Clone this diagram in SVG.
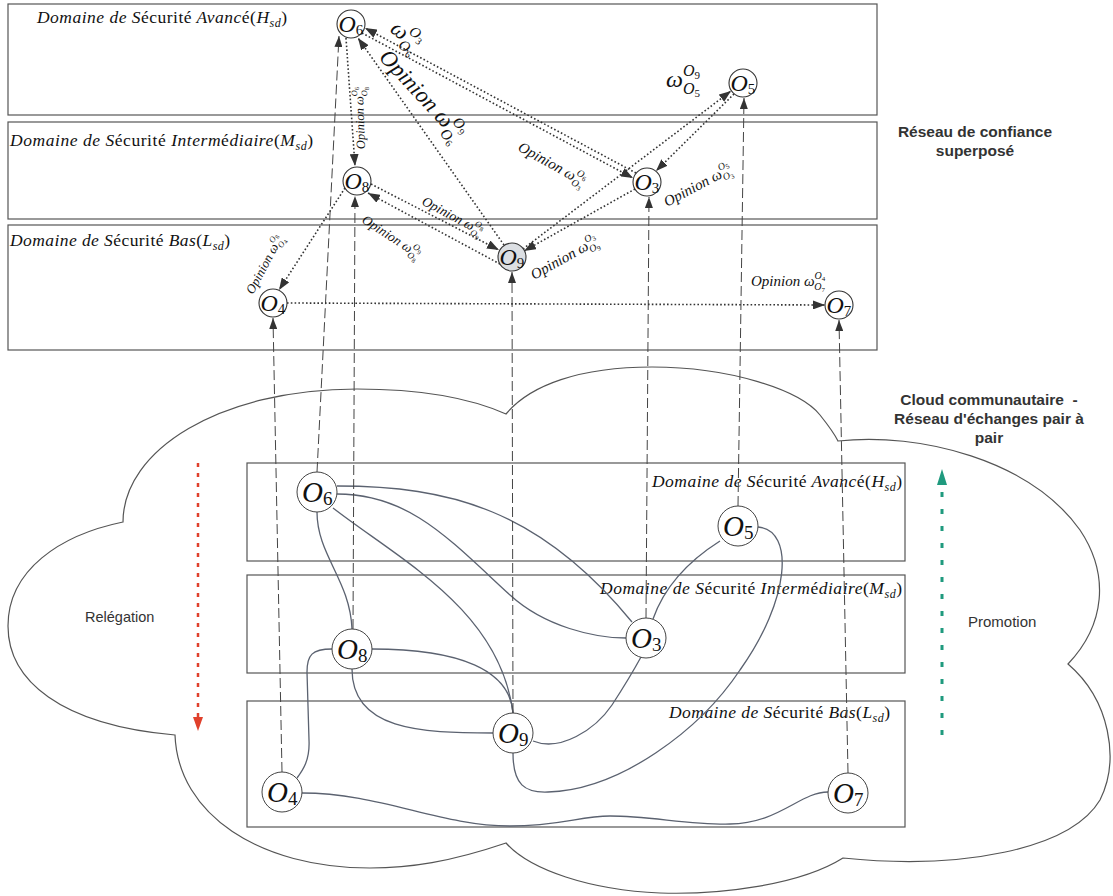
<svg xmlns="http://www.w3.org/2000/svg" width="1113" height="896" viewBox="0 0 1113 896">
<style>
.pan{fill:#fff;stroke:#555;stroke-width:1.2}
.cloud{fill:#fff;stroke:#555;stroke-width:1.2}
.edge{fill:none;stroke:#5b6270;stroke-width:1.3}
.dash{fill:none;stroke:#444;stroke-width:1;stroke-dasharray:10 4}
.dot{fill:none;stroke:#333;stroke-width:1.6;stroke-dasharray:1.6 2.2}
.tn{fill:#fff;stroke:#333;stroke-width:1.1}
.bn{fill:#fff;stroke:#444;stroke-width:1}
.dom{font-family:"Liberation Serif",serif;font-style:italic;font-size:17.5px;fill:#111}
.up{font-style:normal}
.on{font-family:"Liberation Serif",serif;font-style:italic;fill:#111}
.lbl{font-family:"Liberation Serif",serif;font-style:italic;fill:#111}
.ds{font-style:normal}
.bold{font-family:"Liberation Sans",Arial,sans-serif;font-weight:bold;font-size:15.5px;fill:#333;text-anchor:middle}
.reg{font-family:"Liberation Sans",Arial,sans-serif;fill:#333}
</style>
<defs>
<marker id="ah" viewBox="0 0 12 9" refX="12" refY="4.5" markerWidth="12" markerHeight="9" markerUnits="userSpaceOnUse" orient="auto"><path d="M0,0 L12,4.5 L0,9 z" fill="#333"/></marker>
<marker id="ahd" viewBox="0 0 11 8" refX="11" refY="4" markerWidth="11" markerHeight="8" markerUnits="userSpaceOnUse" orient="auto"><path d="M0,0 L11,4 L0,8 z" fill="#333"/></marker>
</defs>
<rect width="1113" height="896" fill="#fff"/>

<!-- cloud -->
<path id="cloud" class="cloud" d="M 123 522 C 123 450, 220 389, 357 389 C 420 389, 470 398, 506 414 C 530 385, 580 367, 652 367 C 730 367, 800 390, 820 415 C 828 425, 834 433, 838 441 C 920 432, 1030 460, 1080 530 C 1110 575, 1105 625, 1068 664 C 1110 700, 1120 760, 1100 800 C 1070 850, 960 870, 843 858 C 800 885, 720 895, 660 893 C 590 890, 530 870, 506 843 C 450 862, 410 868, 370 868 C 260 868, 178 815, 175 735 C 60 725, 8 680, 8 626 C 8 570, 60 535, 123 522 Z"/>

<!-- panels -->
<g id="panels">
<rect class="pan" x="8" y="4" width="869" height="111"/>
<rect class="pan" x="8" y="122" width="869" height="97"/>
<rect class="pan" x="8" y="225" width="869" height="125"/>
<rect class="pan" x="247" y="463" width="658" height="98"/>
<rect class="pan" x="247" y="575" width="658" height="98"/>
<rect class="pan" x="247" y="701" width="658" height="126"/>
</g>
<g id="domain-labels">
<text class="dom" x="37" y="23" textLength="250">Domaine de S<tspan class="up">écurité</tspan> Avanc<tspan class="up">é(</tspan>H<tspan font-size="12" dy="4">sd</tspan><tspan class="up" dy="-4">)</tspan></text>
<text class="dom" x="10" y="146" textLength="303">Domaine de S<tspan class="up">écurité</tspan> Interm<tspan class="up">é</tspan>diaire<tspan class="up">(</tspan>M<tspan font-size="12" dy="4">sd</tspan><tspan class="up" dy="-4">)</tspan></text>
<text class="dom" x="10" y="246" textLength="220">Domaine de S<tspan class="up">écurité</tspan> Bas<tspan class="up">(</tspan>L<tspan font-size="12" dy="4">sd</tspan><tspan class="up" dy="-4">)</tspan></text>
<text class="dom" x="652" y="487" textLength="250">Domaine de S<tspan class="up">écurité</tspan> Avanc<tspan class="up">é(</tspan>H<tspan font-size="12" dy="4">sd</tspan><tspan class="up" dy="-4">)</tspan></text>
<text class="dom" x="600" y="594" textLength="302">Domaine de S<tspan class="up">écurité</tspan> Interm<tspan class="up">é</tspan>diaire<tspan class="up">(</tspan>M<tspan font-size="12" dy="4">sd</tspan><tspan class="up" dy="-4">)</tspan></text>
<text class="dom" x="669" y="718" textLength="221">Domaine de S<tspan class="up">écurité</tspan> Bas<tspan class="up">(</tspan>L<tspan font-size="12" dy="4">sd</tspan><tspan class="up" dy="-4">)</tspan></text>
</g>

<!-- connectors -->
<g id="connectors">
<!-- P2P graph edges -->
<path class="edge" d="M 337 486 C 450 486, 540 510, 632 622"/>
<path class="edge" d="M 337 494 C 410 494, 450 540, 510 595 C 545 627, 595 638, 626 638"/>
<path class="edge" d="M 333 508 C 400 560, 500 610, 513 713"/>
<path class="edge" d="M 317 512 C 317 555, 350 580, 352 629"/>
<path class="edge" d="M 372 649 C 460 649, 510 670, 513 713"/>
<path class="edge" d="M 352 669 C 352 730, 420 733, 493 733"/>
<path class="edge" d="M 332 649 C 312 649, 307 655, 307 672 L 309 740 C 310 760, 303 770, 297 778"/>
<path class="edge" d="M 533 741 C 560 752, 595 730, 612 705 C 625 685, 635 668, 641 657"/>
<path class="edge" d="M 513 753 C 513 785, 525 793, 548 792 C 620 790, 700 730, 740 670 C 790 600, 795 530, 758 527"/>
<path class="edge" d="M 653 619 C 665 585, 690 560, 720 541"/>
<path class="edge" d="M 302 793 C 380 793, 440 826, 510 826 C 560 826, 580 816, 610 816 C 650 816, 690 825, 730 824 C 780 823, 800 792, 828 792"/>
<!-- vertical mapping -->
<path class="dash" marker-end="url(#ahd)" d="M 282 772 L 273 318"/>
<path class="dash" marker-end="url(#ahd)" d="M 317 472 L 339 36"/>
<path class="dash" marker-end="url(#ahd)" d="M 353 629 L 355 196"/>
<path class="dash" marker-end="url(#ahd)" d="M 513 713 L 512 272"/>
<path class="dash" marker-end="url(#ahd)" d="M 646 618 L 649 197"/>
<path class="dash" marker-end="url(#ahd)" d="M 738 506 L 744 98"/>
<path class="dash" marker-end="url(#ahd)" d="M 848 773 L 839 320"/>
<!-- opinions -->
<path class="dot" marker-end="url(#ah)" d="M 346 38 L 355 166"/>
<path class="dot" marker-end="url(#ah)" d="M 504 245 L 358 38"/>
<path class="dot" marker-end="url(#ah)" d="M 636 173 L 365 28"/>
<path class="dot" marker-end="url(#ah)" d="M 362 33 L 633 178"/>
<path class="dot" marker-end="url(#ah)" d="M 523 249 L 731 91"/>
<path class="dot" marker-end="url(#ah)" d="M 734 94 L 656 171"/>
<path class="dot" marker-end="url(#ah)" d="M 635 189 L 524 251"/>
<path class="dot" marker-end="url(#ah)" d="M 371 184 L 499 250"/>
<path class="dot" marker-end="url(#ah)" d="M 500 264 L 368 193"/>
<path class="dot" marker-end="url(#ah)" d="M 345 188 L 279 290"/>
<path class="dot" marker-end="url(#ah)" d="M 287 303 L 825 305"/>
</g>

<!-- opinion labels -->
<g id="opinion-labels">
<text class="lbl" font-size="23" transform="translate(389,31) rotate(38)">ω<tspan font-size="15" dy="-10">O</tspan><tspan class="ds" font-size="10" dy="3">3</tspan><tspan font-size="15" dx="-16" dy="14">O</tspan><tspan class="ds" font-size="10" dy="3">6</tspan></text>
<text class="lbl" font-size="23" transform="translate(378,58) rotate(47)">Opinion ω<tspan font-size="15" dy="-10">O</tspan><tspan class="ds" font-size="10" dy="3">9</tspan><tspan font-size="15" dx="-16" dy="14">O</tspan><tspan class="ds" font-size="10" dy="3">6</tspan></text>
<text class="lbl" font-size="12.5" transform="translate(365,149) rotate(-92)">Opinion ω<tspan font-size="8.5" dy="-6">O</tspan><tspan class="ds" font-size="6" dy="2">6</tspan><tspan font-size="8.5" dx="-9.5" dy="8">O</tspan><tspan class="ds" font-size="6" dy="2">8</tspan></text>
<text class="lbl" font-size="15" transform="translate(517,150) rotate(29)">Opinion ω<tspan font-size="10" dy="-7">O</tspan><tspan class="ds" font-size="7" dy="2">6</tspan><tspan font-size="10" dx="-11" dy="9">O</tspan><tspan class="ds" font-size="7" dy="2">3</tspan></text>
<text class="lbl" font-size="24" transform="translate(666,87)">ω<tspan font-size="16" dy="-11">O</tspan><tspan class="ds" font-size="11" dy="3">9</tspan><tspan font-size="16" dx="-17" dy="15">O</tspan><tspan class="ds" font-size="11" dy="3">5</tspan></text>
<text class="lbl" font-size="15" transform="translate(667,207) rotate(-28)">Opinion ω<tspan font-size="10" dy="-7">O</tspan><tspan class="ds" font-size="7" dy="2">5</tspan><tspan font-size="10" dx="-11" dy="9">O</tspan><tspan class="ds" font-size="7" dy="2">3</tspan></text>
<text class="lbl" font-size="13.5" transform="translate(421,204) rotate(28)">Opinion ω<tspan font-size="9" dy="-6">O</tspan><tspan class="ds" font-size="6.5" dy="2">8</tspan><tspan font-size="9" dx="-10" dy="8">O</tspan><tspan class="ds" font-size="6.5" dy="2">9</tspan></text>
<text class="lbl" font-size="13.5" transform="translate(361,222) rotate(33)">Opinion ω<tspan font-size="9" dy="-6">O</tspan><tspan class="ds" font-size="6.5" dy="2">9</tspan><tspan font-size="9" dx="-10" dy="8">O</tspan><tspan class="ds" font-size="6.5" dy="2">8</tspan></text>
<text class="lbl" font-size="15" transform="translate(534,280) rotate(-29)">Opinion ω<tspan font-size="10" dy="-7">O</tspan><tspan class="ds" font-size="7" dy="2">3</tspan><tspan font-size="10" dx="-11" dy="9">O</tspan><tspan class="ds" font-size="7" dy="2">9</tspan></text>
<text class="lbl" font-size="13" transform="translate(253,295) rotate(-62)">Opinion ω<tspan font-size="8.5" dy="-6">O</tspan><tspan class="ds" font-size="6" dy="2">8</tspan><tspan font-size="8.5" dx="-9.5" dy="8">O</tspan><tspan class="ds" font-size="6" dy="2">4</tspan></text>
<text class="lbl" font-size="15" transform="translate(751,286)">Opinion ω<tspan font-size="10" dy="-7">O</tspan><tspan class="ds" font-size="7" dy="2">4</tspan><tspan font-size="10" dx="-11" dy="9">O</tspan><tspan class="ds" font-size="7" dy="2">7</tspan></text>
</g>

<!-- top (trust overlay) nodes -->
<g id="top-O6"><circle class="tn" cx="351" cy="24" r="14"/><text class="on" font-size="24" x="338.5" y="32">O<tspan class="ds" font-size="15" dy="3">6</tspan></text></g>
<g id="top-O8"><circle class="tn" cx="357" cy="181" r="14"/><text class="on" font-size="24" x="344.5" y="189">O<tspan class="ds" font-size="15" dy="3">8</tspan></text></g>
<g id="top-O9"><circle class="tn" cx="512" cy="257" r="14" style="fill:#dcdfe3"/><text class="on" font-size="24" x="499.5" y="265">O<tspan class="ds" font-size="15" dy="3">9</tspan></text></g>
<g id="top-O3"><circle class="tn" cx="647" cy="182" r="14"/><text class="on" font-size="24" x="634.5" y="190">O<tspan class="ds" font-size="15" dy="3">3</tspan></text></g>
<g id="top-O5"><circle class="tn" cx="743" cy="83" r="14"/><text class="on" font-size="24" x="730.5" y="91">O<tspan class="ds" font-size="15" dy="3">5</tspan></text></g>
<g id="top-O4"><circle class="tn" cx="273" cy="303" r="14"/><text class="on" font-size="24" x="260.5" y="311">O<tspan class="ds" font-size="15" dy="3">4</tspan></text></g>
<g id="top-O7"><circle class="tn" cx="839" cy="305" r="14"/><text class="on" font-size="24" x="826.5" y="313">O<tspan class="ds" font-size="15" dy="3">7</tspan></text></g>

<!-- bottom (P2P) nodes -->
<g id="p2p-O6"><circle class="bn" cx="317" cy="492" r="20"/><text class="on" font-size="29" x="302" y="502">O<tspan class="ds" font-size="19" dy="3">6</tspan></text></g>
<g id="p2p-O8"><circle class="bn" cx="352" cy="649" r="20"/><text class="on" font-size="29" x="337" y="659">O<tspan class="ds" font-size="19" dy="3">8</tspan></text></g>
<g id="p2p-O9"><circle class="bn" cx="513" cy="733" r="20"/><text class="on" font-size="29" x="498" y="743">O<tspan class="ds" font-size="19" dy="3">9</tspan></text></g>
<g id="p2p-O4"><circle class="bn" cx="282" cy="792" r="20"/><text class="on" font-size="29" x="267" y="802">O<tspan class="ds" font-size="19" dy="3">4</tspan></text></g>
<g id="p2p-O3"><circle class="bn" cx="646" cy="638" r="20"/><text class="on" font-size="29" x="631" y="648">O<tspan class="ds" font-size="19" dy="3">3</tspan></text></g>
<g id="p2p-O5"><circle class="bn" cx="738" cy="526" r="20"/><text class="on" font-size="29" x="723" y="536">O<tspan class="ds" font-size="19" dy="3">5</tspan></text></g>
<g id="p2p-O7"><circle class="bn" cx="848" cy="793" r="20"/><text class="on" font-size="29" x="833" y="803">O<tspan class="ds" font-size="19" dy="3">7</tspan></text></g>

<!-- relegation / promotion -->
<g id="relegation">
<path d="M 198 463 L 198 718" fill="none" stroke="#e0402c" stroke-width="2.5" stroke-dasharray="4 6"/>
<polygon points="193,717 203,717 198,731" fill="#e0402c"/>
<text class="reg" font-size="14.5" x="85" y="622">Relégation</text>
</g>
<g id="promotion">
<path d="M 942 735 L 942 484" fill="none" stroke="#1f9a7e" stroke-width="3" stroke-dasharray="5 12"/>
<polygon points="937,485 947,485 942,469" fill="#1f9a7e"/>
<text class="reg" font-size="15" x="968" y="627" fill="#444">Promotion</text>
</g>

<g id="titles">
<text class="bold" x="975" y="137">Réseau de confiance</text>
<text class="bold" x="975" y="156">superposé</text>
<text class="bold" x="989" y="405" style="white-space:pre">Cloud communautaire  -</text>
<text class="bold" x="989" y="424">Réseau d'échanges pair à</text>
<text class="bold" x="989" y="443">pair</text>
</g>
</svg>
